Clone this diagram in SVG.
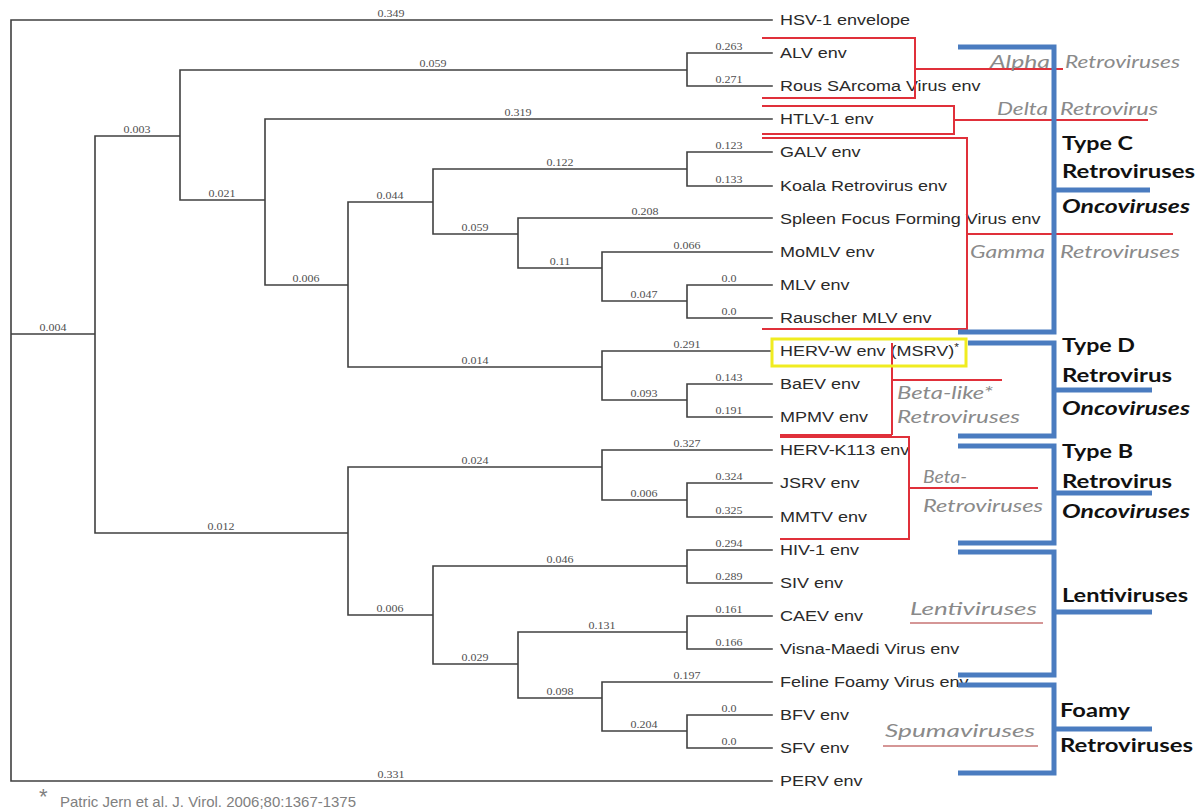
<svg xmlns="http://www.w3.org/2000/svg" width="1203" height="811" viewBox="0 0 1203 811">
<style>
.br{fill:none;stroke:#404040;stroke-width:1.6;stroke-linecap:square}
.bl text{font-family:"Liberation Serif",serif;font-size:10px;fill:#505050;text-anchor:middle}
.lf{font-family:"Liberation Sans",Arial,sans-serif;font-size:15px;fill:#2a2a2a}
.rd{fill:none;stroke:#e0303a;stroke-width:2}
.ul{fill:none;stroke:#c87474;stroke-width:1.5}
.bu{fill:none;stroke:#4a7cc0;stroke-width:5;stroke-linejoin:miter}
.it{font-family:Lato,"Open Sans",sans-serif;font-style:italic;font-size:18px;fill:#8a8a8a}
.bd{font-family:Lato,"Open Sans",sans-serif;font-weight:bold;font-size:19px;fill:#111}
.bi{font-family:Lato,"Open Sans",sans-serif;font-weight:bold;font-style:italic;font-size:19px;fill:#111}
.fn{font-family:"Liberation Sans",Arial,sans-serif;font-size:15px;fill:#808080}
.ast{font-family:"Liberation Sans",Arial,sans-serif;font-size:22px;fill:#808080}
</style>
<rect width="1203" height="811" fill="#fff"/>
<g id="connectors">
<path class="br" d="M772 20 H11 V781 H772 M11 334 H95 M95 136 V533 M95 136 H180 M180 70 V200 M180 70 H687 M687 53 V86 M687 53 H772 M687 86 H772 M180 200 H265 M265 119 V285 M265 119 H772 M265 285 H348 M348 202 V367 M348 202 H433 M433 169 V234 M433 169 H687 M687 152 V186 M687 152 H772 M687 186 H772 M433 234 H518 M518 218 V268 M518 218 H772 M518 268 H602 M602 252 V301 M602 252 H772 M602 301 H687 M687 285 V318 M687 285 H772 M687 318 H772 M348 367 H602 M602 351 V400 M602 351 H772 M602 400 H687 M687 384 V417 M687 384 H772 M687 417 H772 M95 533 H348 M348 467 V615 M348 467 H602 M602 450 V500 M602 450 H772 M602 500 H687 M687 483 V517 M687 483 H772 M687 517 H772 M348 615 H433 M433 566 V664 M433 566 H687 M687 550 V583 M687 550 H772 M687 583 H772 M433 664 H518 M518 632 V698 M518 632 H687 M687 616 V649 M687 616 H772 M687 649 H772 M518 698 H602 M602 682 V731 M602 682 H772 M602 731 H687 M687 715 V748 M687 715 H772 M687 748 H772"/>
</g>
<g class="bl" id="branch-lengths">
<text transform="translate(391 16.5) scale(1.2 1)">0.349</text>
<text transform="translate(53 330.5) scale(1.2 1)">0.004</text>
<text transform="translate(391 777.5) scale(1.2 1)">0.331</text>
<text transform="translate(137 132.5) scale(1.2 1)">0.003</text>
<text transform="translate(221 529.5) scale(1.2 1)">0.012</text>
<text transform="translate(433 66.5) scale(1.2 1)">0.059</text>
<text transform="translate(222 196.5) scale(1.2 1)">0.021</text>
<text transform="translate(729 49.5) scale(1.2 1)">0.263</text>
<text transform="translate(729 82.5) scale(1.2 1)">0.271</text>
<text transform="translate(518 115.5) scale(1.2 1)">0.319</text>
<text transform="translate(306 281.5) scale(1.2 1)">0.006</text>
<text transform="translate(390 198.5) scale(1.2 1)">0.044</text>
<text transform="translate(475 363.5) scale(1.2 1)">0.014</text>
<text transform="translate(560 165.5) scale(1.2 1)">0.122</text>
<text transform="translate(729 148.5) scale(1.2 1)">0.123</text>
<text transform="translate(729 182.5) scale(1.2 1)">0.133</text>
<text transform="translate(475 230.5) scale(1.2 1)">0.059</text>
<text transform="translate(645 214.5) scale(1.2 1)">0.208</text>
<text transform="translate(560 264.5) scale(1.2 1)">0.11</text>
<text transform="translate(687 248.5) scale(1.2 1)">0.066</text>
<text transform="translate(644 297.5) scale(1.2 1)">0.047</text>
<text transform="translate(729 281.5) scale(1.2 1)">0.0</text>
<text transform="translate(729 314.5) scale(1.2 1)">0.0</text>
<text transform="translate(687 347.5) scale(1.2 1)">0.291</text>
<text transform="translate(644 396.5) scale(1.2 1)">0.093</text>
<text transform="translate(729 380.5) scale(1.2 1)">0.143</text>
<text transform="translate(729 413.5) scale(1.2 1)">0.191</text>
<text transform="translate(475 463.5) scale(1.2 1)">0.024</text>
<text transform="translate(687 446.5) scale(1.2 1)">0.327</text>
<text transform="translate(644 496.5) scale(1.2 1)">0.006</text>
<text transform="translate(729 479.5) scale(1.2 1)">0.324</text>
<text transform="translate(729 513.5) scale(1.2 1)">0.325</text>
<text transform="translate(390 611.5) scale(1.2 1)">0.006</text>
<text transform="translate(560 562.5) scale(1.2 1)">0.046</text>
<text transform="translate(729 546.5) scale(1.2 1)">0.294</text>
<text transform="translate(729 579.5) scale(1.2 1)">0.289</text>
<text transform="translate(475 660.5) scale(1.2 1)">0.029</text>
<text transform="translate(602 628.5) scale(1.2 1)">0.131</text>
<text transform="translate(729 612.5) scale(1.2 1)">0.161</text>
<text transform="translate(729 645.5) scale(1.2 1)">0.166</text>
<text transform="translate(560 694.5) scale(1.2 1)">0.098</text>
<text transform="translate(687 678.5) scale(1.2 1)">0.197</text>
<text transform="translate(644 727.5) scale(1.2 1)">0.204</text>
<text transform="translate(729 711.5) scale(1.2 1)">0.0</text>
<text transform="translate(729 744.5) scale(1.2 1)">0.0</text>
</g>
<g id="leaves" transform="translate(780 0) scale(1.2 1)">
<g id="leaf-hsv1"><text class="lf" x="0" y="25.5">HSV-1 envelope</text></g>
<g id="leaf-alv"><text class="lf" x="0" y="58.5">ALV env</text></g>
<g id="leaf-rsv"><text class="lf" x="0" y="91.5">Rous SArcoma Virus env</text></g>
<g id="leaf-htlv1"><text class="lf" x="0" y="124.5">HTLV-1 env</text></g>
<g id="leaf-galv"><text class="lf" x="0" y="157.5">GALV env</text></g>
<g id="leaf-koala"><text class="lf" x="0" y="191.5">Koala Retrovirus env</text></g>
<g id="leaf-sffv"><text class="lf" x="0" y="224.5">Spleen Focus Forming Virus env</text></g>
<g id="leaf-momlv"><text class="lf" x="0" y="257.5">MoMLV env</text></g>
<g id="leaf-mlv"><text class="lf" x="0" y="290.5">MLV env</text></g>
<g id="leaf-rmlv"><text class="lf" x="0" y="323.5">Rauscher MLV env</text></g>
<g id="leaf-hervw"><text class="lf" x="0" y="356.5">HERV-W env (MSRV)<tspan font-size="10" dy="-5">*</tspan></text></g>
<g id="leaf-baev"><text class="lf" x="0" y="389.5">BaEV env</text></g>
<g id="leaf-mpmv"><text class="lf" x="0" y="422.5">MPMV env</text></g>
<g id="leaf-hervk"><text class="lf" x="0" y="455.5">HERV-K113 env</text></g>
<g id="leaf-jsrv"><text class="lf" x="0" y="488.5">JSRV env</text></g>
<g id="leaf-mmtv"><text class="lf" x="0" y="522.5">MMTV env</text></g>
<g id="leaf-hiv1"><text class="lf" x="0" y="555.5">HIV-1 env</text></g>
<g id="leaf-siv"><text class="lf" x="0" y="588.5">SIV env</text></g>
<g id="leaf-caev"><text class="lf" x="0" y="621.5">CAEV env</text></g>
<g id="leaf-visna"><text class="lf" x="0" y="654.5">Visna-Maedi Virus env</text></g>
<g id="leaf-ffv"><text class="lf" x="0" y="687.5">Feline Foamy Virus env</text></g>
<g id="leaf-bfv"><text class="lf" x="0" y="720.5">BFV env</text></g>
<g id="leaf-sfv"><text class="lf" x="0" y="753.5">SFV env</text></g>
<g id="leaf-perv"><text class="lf" x="0" y="786.5">PERV env</text></g>
</g>
<g id="genus-brackets">
<path class="rd" d="M762 38 H915 V98 H762 M915 69 H1063"/>
<path class="rd" d="M762 106 H954 V134 H762 M954 120 H1148"/>
<path class="rd" d="M762 138 H967 V329 H762 M967 234 H1173"/>
<path class="rd" d="M892 343 V435 M892 380 H1002"/>
<path class="rd" d="M780 435 H892" stroke-width="4"/>
<path class="rd" d="M780 437 H909 V539 H780 M909 488 H1038"/>
<path class="ul" d="M910 623 H1043 M883 746 H1038"/>
<rect x="772" y="339" width="194" height="27" fill="none" stroke="#f0ec20" stroke-width="3"/>
</g>
<g id="genus-labels">
<text class="it" x="990" y="68" textLength="60" lengthAdjust="spacingAndGlyphs">Alpha</text>
<text class="it" x="1065" y="68" textLength="115" lengthAdjust="spacingAndGlyphs">Retroviruses</text>
<text class="it" x="997" y="115" textLength="51" lengthAdjust="spacingAndGlyphs">Delta</text>
<text class="it" x="1060" y="115" textLength="98" lengthAdjust="spacingAndGlyphs">Retrovirus</text>
<text class="it" x="970" y="258" textLength="75" lengthAdjust="spacingAndGlyphs">Gamma</text>
<text class="it" x="1060" y="258" textLength="120" lengthAdjust="spacingAndGlyphs">Retroviruses</text>
<text class="it" x="897" y="399" textLength="96" lengthAdjust="spacingAndGlyphs">Beta-like*</text>
<text class="it" x="897" y="423" textLength="123" lengthAdjust="spacingAndGlyphs">Retroviruses</text>
<text class="it" x="923" y="483" textLength="44" lengthAdjust="spacingAndGlyphs">Beta-</text>
<text class="it" x="923" y="512" textLength="120" lengthAdjust="spacingAndGlyphs" fill="#6f8a8a">Retroviruses</text>
<text class="it" x="910" y="615" textLength="127" lengthAdjust="spacingAndGlyphs">Lentiviruses</text>
<text class="it" x="885" y="737" textLength="150" lengthAdjust="spacingAndGlyphs">Spumaviruses</text>
</g>
<g id="type-brackets">
<path class="bu" d="M958 47 H1054 V332 H958 M1054 190 H1150"/>
<path class="bu" d="M968 343 H1054 V436 H958 M1054 390 H1152"/>
<path class="bu" d="M958 446 H1054 V543 H958 M1054 493 H1152"/>
<path class="bu" d="M958 552 H1054 V675 H958 M1054 612 H1152"/>
<path class="bu" d="M958 685 H1054 V773 H958 M1054 729 H1152"/>
</g>
<g id="type-c">
<text class="bd" x="1062" y="150" textLength="71" lengthAdjust="spacingAndGlyphs">Type C</text>
<text class="bd" x="1062" y="178" textLength="133" lengthAdjust="spacingAndGlyphs">Retroviruses</text>
<text class="bi" x="1062" y="213" textLength="128" lengthAdjust="spacingAndGlyphs">Oncoviruses</text>
</g>
<g id="type-d">
<text class="bd" x="1062" y="352" textLength="73" lengthAdjust="spacingAndGlyphs">Type D</text>
<text class="bd" x="1062" y="382" textLength="110" lengthAdjust="spacingAndGlyphs">Retrovirus</text>
<text class="bi" x="1062" y="415" textLength="128" lengthAdjust="spacingAndGlyphs">Oncoviruses</text>
</g>
<g id="type-b">
<text class="bd" x="1062" y="458" textLength="71" lengthAdjust="spacingAndGlyphs">Type B</text>
<text class="bd" x="1062" y="488" textLength="110" lengthAdjust="spacingAndGlyphs">Retrovirus</text>
<text class="bi" x="1062" y="518" textLength="128" lengthAdjust="spacingAndGlyphs">Oncoviruses</text>
</g>
<g id="lenti">
<text class="bd" x="1062" y="602" textLength="126" lengthAdjust="spacingAndGlyphs">Lentiviruses</text>
</g>
<g id="foamy">
<text class="bd" x="1060" y="717" textLength="70" lengthAdjust="spacingAndGlyphs">Foamy</text>
<text class="bd" x="1060" y="752" textLength="133" lengthAdjust="spacingAndGlyphs">Retroviruses</text>
</g>
<g id="footnote">
<text class="ast" x="39" y="804">*</text>
<text class="fn" x="60" y="807" textLength="296" lengthAdjust="spacingAndGlyphs">Patric Jern et al. J. Virol. 2006;80:1367-1375</text>
</g>
</svg>
